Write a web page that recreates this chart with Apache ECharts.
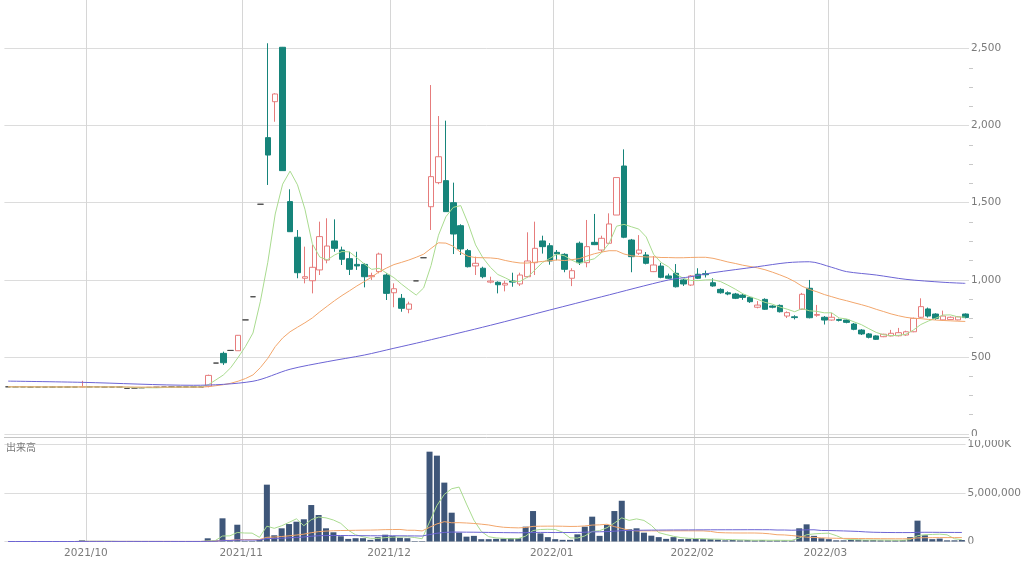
<!DOCTYPE html>
<html><head><meta charset="utf-8">
<script src="https://cdn.jsdelivr.net/npm/echarts@6/dist/echarts.min.js"></script>
<style>html,body{margin:0;padding:0;background:#fff}#c{width:1024px;height:564px}</style>
</head><body><div id="c"></div>
<script>
// ---- categories (trading days) ----
const months = ['2021/09','2021/10','2021/11','2021/12','2022/01','2022/02','2022/03'];
const tradingDays = [
  [14,15,16,17,21,22,24,27,28,29,30],
  [1,4,5,6,7,8,11,12,13,14,15,18,19,20,21,22,25,26,27,28,29],
  [1,2,4,5,8,9,10,11,12,15,16,17,18,19,22,24,25,26,29,30],
  [1,2,3,6,7,8,9,10,13,14,15,16,17,20,21,22,23,24,27,28,29,30],
  [4,5,6,7,11,12,13,14,17,18,19,20,21,24,25,26,27,28,31],
  [1,2,3,4,7,8,9,10,14,15,16,17,18,21,22,24,25,28],
  [1,2,3,4,7,8,9,10,11,14,15,16,17,18,22,23,24,25,28]
];
// ---- prices ----
const openP = [306,306,306,305,305,305,305,305,305,305,305,306,306,305,305,305,295,298,300,302,303,304,305,305,305,305,305,
310,460,523,542,540,740,890,1490,1922,2155,
2508,1507,1276,1010,994,1064,1128,1252,1193,1137,
1100,1100,1020,1053,1031,916,880,809,993,1143,
1474,1630,1643,1500,1351,1189,1090,1075,985,984,
966,992,973,1020,1111,1252,1221,1178,1165,1010,
1237,1111,1243,1193,1237,1420,1738,1258,1172,1161,
1053,1089,1025,1042,999,966,1036,1040,981,938,
916,908,901,886,822,873,830,834,765,760,
809,945,770,757,739,742,739,713,674,649,
636,631,636,637,642,663,757,811,778,740,
742,740,778];
const closeP = [306,306,306,305,305,305,305,305,305,305,306,306,306,305,305,305,295,298,300,302,303,304,305,305,305,305,305,
380,460,462,542,640,740,890,1490,1809,2205,
1708,1312,1046,1020,1081,1280,1219,1204,1133,1068,
1090,1020,1028,1167,912,942,815,843,993,1143,
1669,1798,1442,1297,1200,1085,1107,1020,992,968,
977,985,1031,1122,1204,1215,1122,1168,1068,1059,
1111,1215,1228,1269,1362,1663,1276,1150,1193,1107,
1096,1016,1010,955,973,1025,1010,1033,960,916,
908,880,886,858,836,809,822,793,787,755,
906,754,775,739,757,737,724,679,649,627,
614,647,653,657,663,750,826,765,750,765,
757,760,755];
const lowP = [306,306,306,305,305,305,305,305,305,305,303,306,306,305,305,305,295,298,300,302,303,304,305,305,305,305,305,
303,460,448,542,540,740,890,1490,1615,2025,
1708,1310,1010,977,912,1031,1107,1182,1096,1031,
1064,951,999,1042,869,822,793,783,993,1143,
1323,1620,1442,1167,1161,1080,1031,1010,977,912,
925,955,960,1015,1031,1170,1098,1127,1049,959,
1096,1081,1225,1180,1235,1420,1270,1049,1161,1100,
1050,1010,1005,950,960,960,1005,1015,955,910,
900,875,870,850,815,805,815,788,752,743,
805,750,760,710,735,730,718,673,642,620,
610,628,633,633,637,660,750,755,740,735,
738,737,750];
const highP = [306,306,306,305,305,305,305,305,305,305,345,306,306,305,305,305,295,298,300,302,303,304,305,305,305,305,305,
385,460,534,542,642,740,890,1490,2534,2210,
2510,1587,1323,1215,1226,1377,1399,1392,1215,1182,
1182,1107,1046,1176,1042,977,908,858,993,1143,
2263,2062,2032,1630,1360,1200,1150,1085,1020,990,
994,1046,1046,1308,1377,1286,1238,1193,1172,1075,
1248,1388,1427,1286,1431,1663,1846,1265,1290,1180,
1154,1110,1040,1102,1005,1031,1075,1060,1010,945,
925,915,910,892,862,880,835,840,795,770,
915,999,837,765,785,748,742,720,680,655,
640,650,675,688,670,755,880,820,783,800,
762,765,782];
// ---- volume (thousand shares) ----
const volumeK = [0,0,0,0,0,0,0,0,0,0,120,10,0,0,0,0,20,0,0,0,0,0,0,0,0,0,0,
330,100,2390,100,1730,50,50,200,5860,640,
1360,1800,2040,2290,3760,2730,1360,950,540,270,
340,340,170,450,700,580,380,340,50,50,
9260,8850,6070,2970,910,500,580,240,240,270,
300,340,340,1530,3140,840,450,240,170,170,
740,1530,2560,580,1700,3140,4200,1260,1360,910,
600,450,270,450,240,270,270,240,240,200,
120,150,120,150,120,150,100,120,120,100,
1360,1770,580,340,240,120,120,180,180,150,
150,120,120,120,150,450,2150,640,240,300,
120,120,150];
// ---- 75-day moving average of price ----
const ma75Price = [['2021/09/14',343],['2021/09/30',335],['2021/10/21',316],['2021/11/02',342],['2021/11/10',420],
  ['2021/11/17',469],['2021/11/25',512],['2021/12/01',556],['2021/12/07',600],['2021/12/20',705],['2021/12/30',804],
  ['2022/01/13',890],['2022/01/26',999],['2022/01/31',1020],['2022/02/03',1046],['2022/02/14',1085],['2022/02/18',1111],
  ['2022/02/24',1117],['2022/03/01',1081],['2022/03/03',1053],['2022/03/09',1031],['2022/03/15',1003],['2022/03/23',984],['2022/03/28',977]];
const priceTicks = [0,500,1000,1500,2000,2500];
const volumeTicks = [0,5000000,10000000];

const dates = months.flatMap((m,k)=>tradingDays[k].map(d=>m+'/'+String(d).padStart(2,'0')));
const candles = dates.map((_,i)=>[openP[i],closeP[i],lowP[i],highP[i]]);
const volume = volumeK.map(v=>v*1000);
function ma(arr,n){return arr.map((_,i)=>{const s=Math.max(0,i-n+1);let t=0;for(let j=s;j<=i;j++)t+=arr[j];return +(t/(i-s+1)).toFixed(1);});}
const isMonthStart = i => i>0 && dates[i].slice(0,7)!==dates[i-1].slice(0,7);

const FONT='DejaVu Sans', LBL='#7a7a7a';
const GREEN='#a9db8f', ORANGE='#f2a66c', BLUE='#6c64d4';
const L=4.4, R=55;
const chart = echarts.init(document.getElementById('c'));
const vSplit = {show:true, interval:(i)=>isMonthStart(i), showMaxLine:false, showMinLine:true, lineStyle:{color:'#d6d6d6',width:1}};
chart.setOption({
  animation:false,
  grid:[
    {left:L,right:R,top:48.5,height:385.5},
    {left:L,right:R,top:444.5,height:97},
    {left:L,right:R,top:0,height:541.5}
  ],
  xAxis:[
    {type:'category',gridIndex:0,data:dates,offset:3,axisLine:{show:true,onZero:false,lineStyle:{color:'#c4c4c4'}},axisTick:{show:false},axisLabel:{show:false},splitLine:{show:false}},
    {type:'category',gridIndex:1,data:dates,axisLine:{show:false},axisTick:{show:false},splitLine:{show:false},
      axisLabel:{show:true,interval:(i)=>isMonthStart(i),formatter:v=>v.slice(0,7),color:LBL,fontSize:10.5,fontFamily:FONT,margin:6,padding:[0,7,0,0]}},
    {type:'category',gridIndex:2,data:dates,axisLine:{show:false},axisTick:{show:false},axisLabel:{show:false},splitLine:vSplit}
  ],
  yAxis:[
    {type:'value',gridIndex:0,position:'right',min:priceTicks[0],max:priceTicks[priceTicks.length-1],interval:priceTicks[1]-priceTicks[0],
      axisLine:{show:false},axisTick:{show:false},
      minorTick:{show:true,splitNumber:4,length:4,lineStyle:{color:'#c8c8c8'}},minorSplitLine:{show:false},
      splitLine:{lineStyle:{color:'#dcdcdc'}},
      axisLabel:{color:LBL,fontSize:10.5,fontFamily:FONT,margin:2,formatter:v=>v.toLocaleString('en-US')}},
    {type:'value',gridIndex:1,position:'right',min:volumeTicks[0],max:volumeTicks[2],interval:volumeTicks[1],
      axisLine:{show:false},axisTick:{show:false},splitLine:{lineStyle:{color:'#dcdcdc'}},
      axisLabel:{color:LBL,fontSize:10.5,fontFamily:FONT,margin:2,formatter:v=>v>=10000000?(v/1000).toLocaleString('en-US')+'K':v.toLocaleString('en-US')}},
    {type:'value',gridIndex:2,show:false}
  ],
  graphic:[
    {type:'text',left:6,top:442,z:100,style:{text:'出来高',fill:LBL,fontSize:10,fontFamily:'Noto Sans CJK JP'}},
    {type:'rect',left:970,top:436,z:100,shape:{width:54,height:4},style:{fill:'#fff'}},
    {type:'rect',left:970,top:543.5,z:100,shape:{width:54,height:5},style:{fill:'#fff'}}
  ],
  series:[
    {type:'candlestick',xAxisIndex:0,yAxisIndex:0,data:candles,barWidth:6,clip:false,z:2,
      itemStyle:{color:'#ffffff',color0:'#16847a',borderColor:'#e67c7c',borderColor0:'#16847a',borderColorDoji:'#4a4a4a',borderWidth:1}},
    {type:'line',xAxisIndex:0,yAxisIndex:0,data:ma(closeP,5),symbol:'none',z:3,lineStyle:{color:GREEN,width:1}},
    {type:'line',xAxisIndex:0,yAxisIndex:0,data:ma(closeP,25),symbol:'none',z:3,lineStyle:{color:ORANGE,width:1}},
    {type:'line',xAxisIndex:0,yAxisIndex:0,data:ma75Price,symbol:'none',smooth:0.3,z:3,lineStyle:{color:BLUE,width:1}},
    {type:'bar',xAxisIndex:1,yAxisIndex:1,data:volume,barWidth:6,itemStyle:{color:'#3e5679'},z:2},
    {type:'line',xAxisIndex:1,yAxisIndex:1,data:ma(volume,5),symbol:'none',z:3,lineStyle:{color:GREEN,width:1}},
    {type:'line',xAxisIndex:1,yAxisIndex:1,data:ma(volume,25),symbol:'none',z:3,lineStyle:{color:ORANGE,width:1}},
    {type:'line',xAxisIndex:1,yAxisIndex:1,data:ma(volume,75),symbol:'none',z:3,lineStyle:{color:BLUE,width:1}}
  ]
});
</script></body></html>
